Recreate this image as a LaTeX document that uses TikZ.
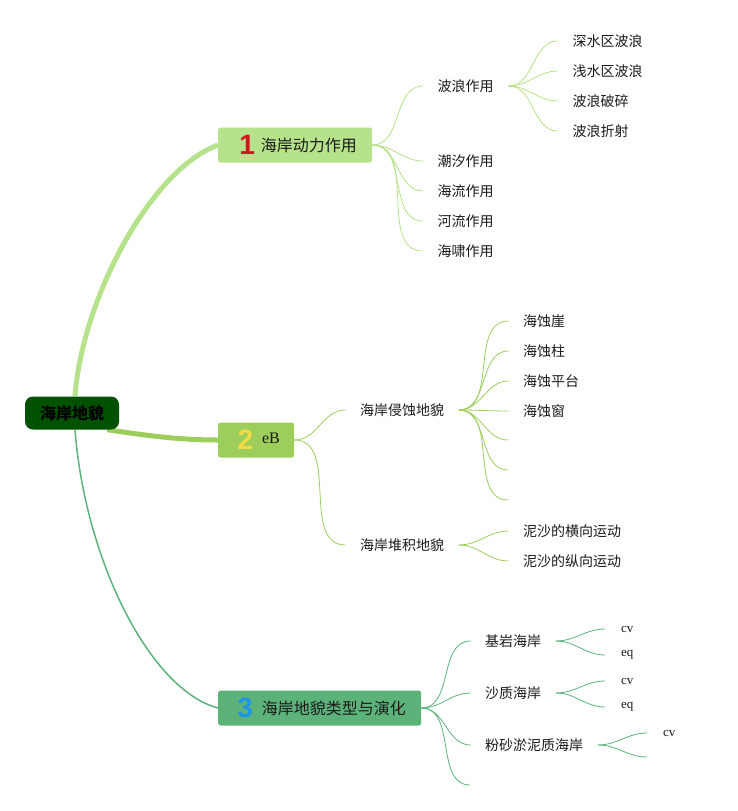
\documentclass[tikz,border=0pt]{standalone}
\usepackage{fontspec}
\setmainfont{Noto Sans CJK SC}
\newfontfamily\enserif{Liberation Serif}
\newfontfamily\numfont{Liberation Sans}
\usepackage{tikz}
\usetikzlibrary{positioning,
				backgrounds,
				calc}
\definecolor{rootgreen}{HTML}{005200}
\definecolor{greenA}{HTML}{B5E28A}
\definecolor{greenB}{HTML}{9DCE5C}
\definecolor{greenC}{HTML}{5CB37A}
\definecolor{numred}{HTML}{D7141E}
\definecolor{numyellow}{HTML}{F2DC46}
\definecolor{numblue}{HTML}{1E96E6}
\definecolor{ink}{HTML}{1A1A1A}
\newcommand{\bignum}[2]{\raisebox{-3pt}{\numfont\bfseries\fontsize{28}{28}\selectfont\color{#1}#2}}

\begin{document}
\begin{tikzpicture}[x=1pt, y=-1pt,
	rootbox/.style={fill=rootgreen, rounded corners=8pt, minimum width=94pt, minimum height=33pt, inner sep=0pt, font=\fontsize{16}{18}\selectfont\bfseries, text=black},
	mainbox/.style={anchor=west, rounded corners=2.5pt, minimum height=35pt, inner sep=0pt, font=\fontsize{16}{18}\selectfont, text=ink},
	leaf/.style={anchor=west, inner xsep=14.5pt, inner ysep=2pt, font=\fontsize{14}{16}\selectfont, text=ink},
	tip/.style={anchor=west, inner xsep=16pt, inner ysep=1pt, font=\enserif\fontsize{13}{15}\selectfont, text=ink},
	link/.style={line width=0.8pt, out=0, in=180}]
	\useasboundingbox (0,0) rectangle (737,811);
	% root and main branches
	\node[rootbox] (root) at (72,413) {海岸地貌};
	\node[mainbox, fill=greenA, minimum width=154pt] (dyn) at (218,145) {\hspace*{6pt}\bignum{numred}{1}\hspace{6pt}海岸动力作用};
	\node[mainbox, fill=greenB, minimum width=76pt] (eb) at (218,440) {\hspace*{5pt}\bignum{numyellow}{2}\hspace{9pt}\raisebox{3pt}{\enserif eB}};
	\node[mainbox, fill=greenC, minimum width=203pt] (types) at (218,708) {\hspace*{4pt}\bignum{numblue}{3}\hspace{9pt}海岸地貌类型与演化};
	% branch 1
	\node[leaf] (wave) at (423,86) {波浪作用};
	\node[leaf] (tide) at (423,161) {潮汐作用};
	\node[leaf] (current) at (423,191) {海流作用};
	\node[leaf] (river) at (423,221) {河流作用};
	\node[leaf] (tsunami) at (423,251) {海啸作用};
	\node[leaf] (deep) at (558,41) {深水区波浪};
	\node[leaf] (shallow) at (558,71) {浅水区波浪};
	\node[leaf] (breaking) at (558,101) {波浪破碎};
	\node[leaf] (refract) at (558,131) {波浪折射};
	% branch 2
	\node[leaf] (erosion) at (345.5,410) {海岸侵蚀地貌};
	\node[leaf] (deposit) at (345.5,545) {海岸堆积地貌};
	\node[leaf] (cliff) at (508.5,321) {海蚀崖};
	\node[leaf] (stack) at (508.5,351) {海蚀柱};
	\node[leaf] (platform) at (508.5,381) {海蚀平台};
	\node[leaf] (window) at (508.5,411) {海蚀窗};
	\coordinate (ero5) at (508,440);
	\coordinate (ero6) at (508,470);
	\coordinate (ero7) at (508,500);
	\node[leaf] (cross) at (508.5,531) {泥沙的横向运动};
	\node[leaf] (along) at (508.5,561) {泥沙的纵向运动};
	% branch 3
	\node[leaf] (bedrock) at (470.5,641) {基岩海岸};
	\node[leaf] (sandy) at (470.5,693) {沙质海岸};
	\node[leaf] (muddy) at (470.5,745) {粉砂淤泥质海岸};
	\coordinate (type4) at (470,785);
	\node[tip] (rockcv) at (605,629) {cv};
	\node[tip] (rockeq) at (605,655) {eq};
	\node[tip] (sandcv) at (605,681) {cv};
	\node[tip] (sandeq) at (605,707) {eq};
	\node[tip] (mudcv) at (647,733) {cv};
	\coordinate (mud2) at (647,757);
	% connectors
	\begin{scope}[on background layer]
		\draw[greenA, line width=5pt] ([xshift=3pt]root.north) .. controls (82,300) and (150,170) .. (dyn.west);
		\draw[greenB, line width=5pt] ([xshift=-12pt]root.south east) .. controls (150,436) and (180,440) .. (eb.west);
		\draw[greenC, line width=1.5pt] ([xshift=3pt]root.south) .. controls (85,560) and (150,690) .. (types.west);
		\foreach \n in {wave,tide,current,river,tsunami}
			\draw[link, greenA] (dyn.east) to (\n.west);
		\foreach \n in {deep,shallow,breaking,refract}
			\draw[link, greenA] (wave.east) to (\n.west);
		\foreach \n in {erosion,deposit}
			\draw[link, greenB] (eb.east) to (\n.west);
		\foreach \n in {cliff.west,stack.west,platform.west,window.west,ero5,ero6,ero7}
			\draw[link, greenB] (erosion.east) to (\n);
		\foreach \n in {cross,along}
			\draw[link, greenB] (deposit.east) to (\n.west);
		\foreach \n in {bedrock.west,sandy.west,muddy.west,type4}
			\draw[link, greenC] (types.east) to (\n);
		\draw[link, greenC] (bedrock.east) to (rockcv.west);
		\draw[link, greenC] (bedrock.east) to (rockeq.west);
		\draw[link, greenC] (sandy.east) to (sandcv.west);
		\draw[link, greenC] (sandy.east) to (sandeq.west);
		\draw[link, greenC] (muddy.east) to (mudcv.west);
		\draw[link, greenC] (muddy.east) to (mud2);
	\end{scope}
\end{tikzpicture}
\end{document}
